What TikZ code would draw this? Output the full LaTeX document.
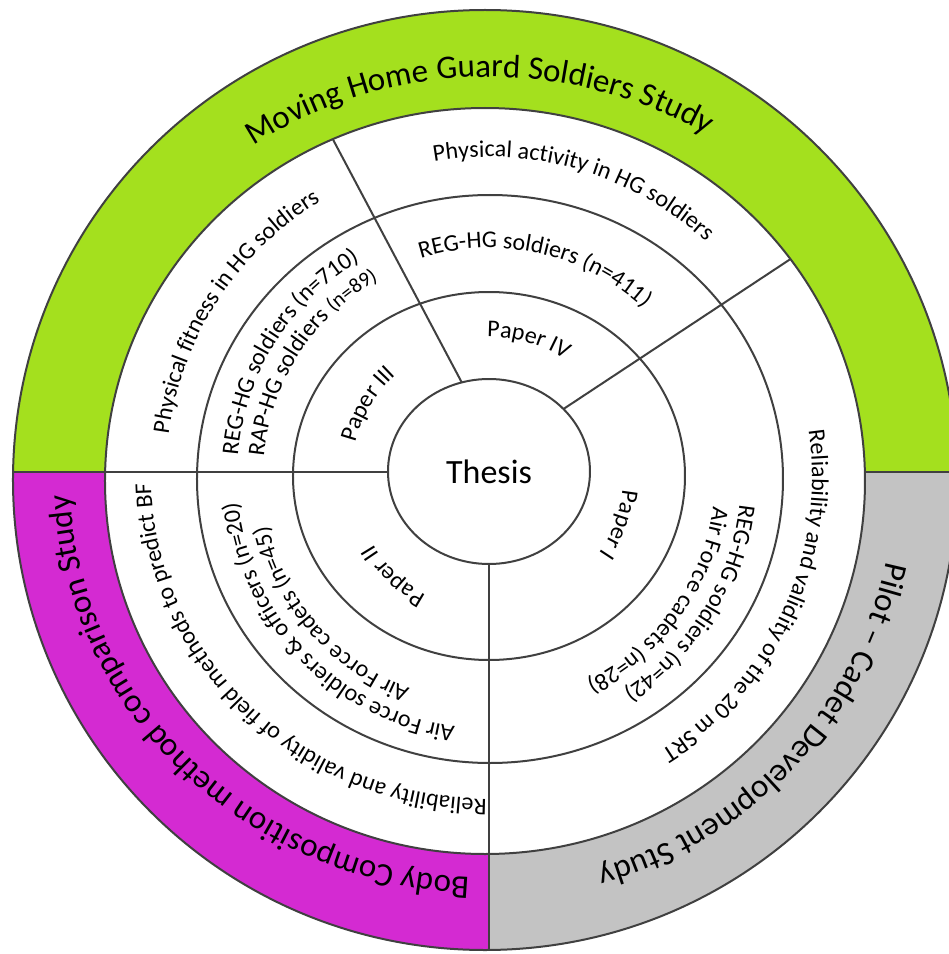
\documentclass[tikz,border=0pt]{standalone}
\usepackage{fontspec}
\setmainfont{Carlito}
\usetikzlibrary{shapes.geometric,decorations.text}

\definecolor{studygreen}{HTML}{A4E01E}
\definecolor{studymagenta}{HTML}{D42AD2}
\definecolor{studygrey}{HTML}{C3C3C3}
\definecolor{ruleline}{HTML}{404040}

\newcommand\titlesize{\fontsize{33}{33}\selectfont}
\newcommand\labelsize{\fontsize{24}{24}\selectfont}
\newcommand\smalllabelsize{\fontsize{21}{21}\selectfont}

% curved label: radius, middle angle, font, text (runs clockwise, tops outward)
\newcommand\ringtext[4]{%
  \path[decorate,decoration={text along path,text align=center,text={|#3|#4}}]
    ({#2+85}:#1) arc[start angle={#2+85}, end angle={#2-85}, radius=#1];}
% same on an oval baseline: x radius, y radius, middle angle, font, text
\newcommand\ovaltext[5]{%
  \path[decorate,decoration={text along path,text align=center,text={|#4|#5}}]
    ({#3+85}:#1 and #2) arc[start angle={#3+85}, end angle={#3-85},
      x radius=#1, y radius=#2];}

\begin{document}
\begin{tikzpicture}[x=1pt,y=1pt,line width=2pt,
  ringline/.style={draw=ruleline,ellipse,inner sep=0pt,outer sep=0pt},
  divider/.style={draw=ruleline}]
\clip (-489,-477) rectangle (460,477);

% coloured outer band of the three studies
\begin{scope}
  \clip (-500,5.5) rectangle (500,500);
  \fill[studygreen,even odd rule] (-4,-3) ellipse [x radius=472, y radius=470]
    (-4,-4) ellipse [x radius=380, y radius=373];
\end{scope}
\begin{scope}
  \clip (-500,5.5) rectangle (0.5,-500);
  \fill[studymagenta,even odd rule] (-4,-3) ellipse [x radius=472, y radius=470]
    (-4,-4) ellipse [x radius=380, y radius=373];
\end{scope}
\begin{scope}
  \clip (0.5,5.5) rectangle (500,-500);
  \fill[studygrey,even odd rule] (-4,-3) ellipse [x radius=472, y radius=470]
    (-4,-4) ellipse [x radius=380, y radius=373];
\end{scope}

% concentric rings
\node[ringline,minimum width=944pt,minimum height=940pt] (studies) at (-4,-3) {};
\node[ringline,minimum width=760pt,minimum height=746pt] (topics) at (-4,-4) {};
\node[ringline,minimum width=586pt,minimum height=568pt] (groups) at (1,-2) {};
\node[ringline,minimum width=392pt,minimum height=368pt] (papers) at (0,1) {};
\node[ringline,fill=white,minimum width=202pt,minimum height=185pt,
  font=\fontsize{34}{34}\selectfont] (thesis) at (0,5.5) {Thesis};

% sector dividers
\draw[divider] (thesis.107.4) -- (topics.114);
\draw[divider] (thesis.40.3) -- (topics.36.9);
\draw[divider] (thesis.west) -- (thesis.west -| studies.west);
\draw[divider] (thesis.south) -- (thesis.south |- studies.south);
\draw[divider] (topics.east |- thesis.east) -- (studies.east |- thesis.east);

% studies
\ovaltext{420}{400}{91.5}{\titlesize}{Moving Home Guard Soldiers Study}
\ovaltext{419}{401}{224.3}{\titlesize}{Body Composition method comparison Study}
\ringtext{406}{316.75}{\titlesize}{Pilot – Cadet Development Study}

% topics
\ringtext{320}{73.6}{\labelsize}{Physical activity in HG soldiers}
\ringtext{323}{146.9}{\labelsize}{Physical fitness in HG soldiers}
\ringtext{323}{-24.8}{\labelsize}{Reliability and validity of the 20 m SRT}
\ovaltext{338}{322}{224.75}{\labelsize}{Reliability and validity of field methods to predict BF}

% participants
\ringtext{229}{77.4}{\labelsize}{REG-HG soldiers (n=411)}
\ringtext{252}{148}{\labelsize}{REG-HG soldiers (n=710)}
\ringtext{226}{147}{\labelsize}{RAP-HG soldiers |\smalllabelsize|(n=89)}
\ringtext{252}{-32}{\labelsize}{REG-HG soldiers (n=42)}
\ringtext{226}{-36}{\labelsize}{Air Force cadets (n=28)}
\ringtext{252}{224}{\labelsize}{Air Force soldiers {\&} officers (n=20)}
\ringtext{226}{221}{\labelsize}{Air Force cadets (n=45)}

% papers
\ringtext{140}{74}{\labelsize}{Paper IV}
\ringtext{138}{149}{\labelsize}{Paper III}
\ringtext{134}{-20}{\labelsize}{Paper I}
\ringtext{134}{226}{\labelsize}{Paper II}
\end{tikzpicture}
\end{document}
